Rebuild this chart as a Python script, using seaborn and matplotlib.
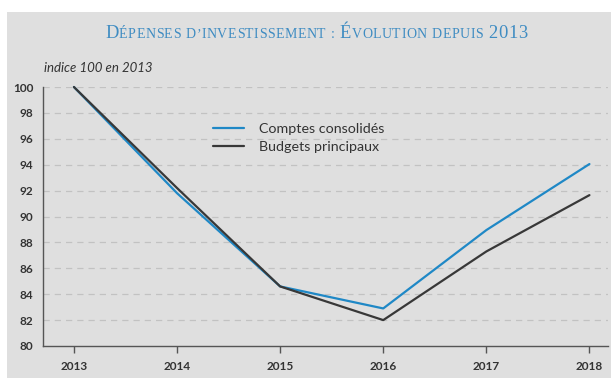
import matplotlib
matplotlib.use("Agg")
import matplotlib.pyplot as plt
import seaborn as sns
import pandas as pd
from matplotlib.patches import Rectangle

years = [2013, 2014, 2015, 2016, 2017, 2018]
comptes_consolides = [100.0, 91.8, 84.6, 82.9, 88.95, 94.05]
budgets_principaux = [100.0, 92.2, 84.6, 82.0, 87.3, 91.65]
series_names = ["Comptes consolidés", "Budgets principaux"]
y_ticks = [80, 82, 84, 86, 88, 90, 92, 94, 96, 98, 100]
title_parts = [("D", True), ("ÉPENSES D’INVESTISSEMENT : ", False), ("É", True),
               ("VOLUTION DEPUIS ", False), ("2013", True)]
subtitle = "indice 100 en 2013"

df = pd.DataFrame({
    "annee": years * 2,
    "indice": comptes_consolides + budgets_principaux,
    "serie": [series_names[0]] * len(years) + [series_names[1]] * len(years),
})

sns.set_theme(style="white")
plt.rcParams["font.family"] = ["Lato", "DejaVu Sans"]

W, H = 611, 378
BG = "#dfdfdf"
fig = plt.figure(figsize=(W / 100, H / 100), dpi=100)
fig.patch.set_facecolor("white")
fig.patches.append(Rectangle((7 / W, 0), 1 - 7 / W, 1 - 12 / H,
                             transform=fig.transFigure, facecolor=BG,
                             edgecolor="none", zorder=-10))

ax = fig.add_axes([43 / W, (H - 346) / H, (608 - 43) / W, (346 - 87) / H])
ax.set_facecolor("none")
ax.set_zorder(2)

palette = {series_names[0]: "#1f88c6", series_names[1]: "#383838"}
sns.lineplot(data=df, x="annee", y="indice", hue="serie", palette=palette,
             linewidth=1.6, ax=ax, clip_on=False, zorder=3)

ax.set_xlim(2012.7, 2018.18)
ax.set_ylim(80, 100)
ax.set_xticks(years)
ax.set_yticks(y_ticks)
ax.set_xlabel("")
ax.set_ylabel("")

for v in y_ticks[1:]:
    ax.axhline(v, color="#c2c2c2", linewidth=0.9, linestyle=(0, (5, 4)), zorder=1)

for s in ["top", "right"]:
    ax.spines[s].set_visible(False)
for s in ["left", "bottom"]:
    ax.spines[s].set_color("#555555")
    ax.spines[s].set_linewidth(1.0)

ax.tick_params(axis="x", which="both", bottom=True, length=5, width=1,
               color="#555555", direction="out", pad=6,
               labelsize=8.5, labelcolor="#333333")
ax.tick_params(axis="y", which="both", left=False, length=0, pad=7,
               labelsize=8.5, labelcolor="#333333")
for lab in ax.get_xticklabels() + ax.get_yticklabels():
    lab.set_fontweight("bold")

leg = ax.legend(loc="upper left", bbox_to_anchor=(207 / W, (H - 117) / H),
                bbox_transform=fig.transFigure, frameon=False, fontsize=10.3,
                handlelength=2.2, handletextpad=1.0, labelspacing=0.42,
                borderaxespad=0)
for t in leg.get_texts():
    t.set_color("#333333")

fig.text(44 / W, (H - 72) / H, subtitle, fontsize=9.5,
         style="italic", color="#333333", va="baseline", ha="left")

# small-caps title with tracking, one glyph at a time
renderer = fig.canvas.get_renderer()
title_color = "#3f8cc2"
BIG, SMALL = 13.3, 10.0
chars = []
for txt, big in title_parts:
    for ch in txt:
        chars.append((ch, BIG if big else SMALL))
widths = []
for ch, sz in chars:
    t = fig.text(0, 0, ch if ch != " " else "n", fontsize=sz,
                 family="Liberation Serif")
    w = t.get_window_extent(renderer).width
    if ch == " ":
        w *= 0.6
    widths.append(w)
    t.remove()
x0, x1, baseline = 105, 527, 38
track = (x1 - x0 - sum(widths)) / (len(chars) - 1)
x = x0
for (ch, sz), w in zip(chars, widths):
    if ch != " ":
        fig.text(x / W, (H - baseline) / H, ch, fontsize=sz,
                 family="Liberation Serif", color=title_color,
                 va="baseline", ha="left")
    x += w + track

fig.savefig("out.png", dpi=100, facecolor="white")
